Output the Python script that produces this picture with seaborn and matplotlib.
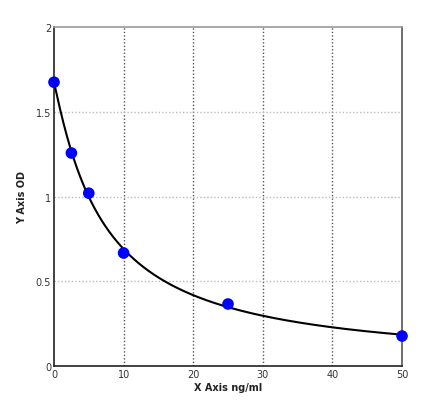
import numpy as np
import pandas as pd
import matplotlib
matplotlib.use("Agg")
import matplotlib.pyplot as plt
import seaborn as sns
from matplotlib.ticker import FuncFormatter

conc = [0.0, 2.5, 5.0, 10.0, 25.0, 50.0]
od = [1.675, 1.257, 1.02, 0.667, 0.366, 0.177]
xticks = [0, 10, 20, 30, 40, 50]
yticks = [0, 0.5, 1, 1.5, 2]

df = pd.DataFrame({"conc": conc, "od": od})

# 4-parameter logistic fit (grid over b, c; linear solve for a, d)
x = np.array(conc); y = np.array(od)
best = None
for b in np.linspace(0.5, 2.0, 61):
    for c in np.linspace(2, 40, 191):
        g = 1.0 / (1.0 + (x / c) ** b)
        A = np.column_stack([g, 1 - g])
        sol, *_ = np.linalg.lstsq(A, y, rcond=None)
        r = np.sum((A @ sol - y) ** 2)
        if best is None or r < best[0]:
            best = (r, b, c, sol)
_, b, c, (a, d) = best
xf = np.linspace(0, 50, 300)
fit = pd.DataFrame({"conc": xf, "od": d + (a - d) / (1 + (xf / c) ** b)})

sns.set_style("white")
fig = plt.figure(figsize=(4.4, 4.02), dpi=100)
ax = fig.add_axes([0.1227, 0.087, 0.791, 0.843])

sns.lineplot(data=fit, x="conc", y="od", ax=ax, color="black", linewidth=1.5, zorder=3)
sns.scatterplot(data=df, x="conc", y="od", ax=ax, color="#0000ff", s=70, edgecolor="none", zorder=4, clip_on=False)

ax.set_xlim(0, 50)
ax.set_ylim(0, 2)
ax.set_xticks(xticks)
ax.set_yticks(yticks)
ax.yaxis.set_major_formatter(FuncFormatter(lambda v, p: f"{v:g}"))
for xv in xticks[1:-1]:
    ax.axvline(xv, color="#555555", linestyle=(0, (1, 1.5)), linewidth=1, zorder=1)
for yv in yticks[1:-1]:
    ax.axhline(yv, color="#bbbbbb", linestyle=(0, (1, 1.5)), linewidth=1, zorder=1)

ax.tick_params(axis="both", labelsize=7, length=0, pad=2, colors="#333333")
ax.set_xlabel("X Axis ng/ml", fontsize=7, fontweight="bold", labelpad=2, color="#222222")
ax.set_ylabel("Y Axis OD", fontsize=7, fontweight="bold", labelpad=6, color="#222222")

for side in ["left", "bottom"]:
    ax.spines[side].set_color("#222222"); ax.spines[side].set_linewidth(1.2)
for side in ["top", "right"]:
    ax.spines[side].set_color("#999999"); ax.spines[side].set_linewidth(1.2)
ax.spines["right"].set_color("#555555")

fig.savefig("out.png", dpi=100)
